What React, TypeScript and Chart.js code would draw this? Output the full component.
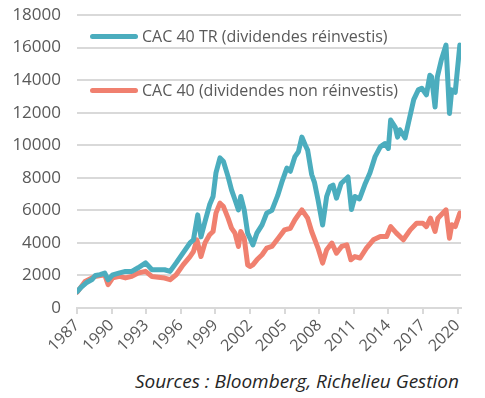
import React, { useEffect, useRef } from "react";
import { Chart, registerables } from "chart.js";

Chart.register(...registerables);

const trYears = [
  1987.0, 1987.4, 1987.8, 1988.3, 1988.6, 1989.0, 1989.4, 1989.7, 1990.1, 1990.7,
  1991.2, 1991.75, 1992.3, 1992.95, 1993.5, 1994.0, 1994.6, 1995.07, 1995.6, 1996.2,
  1996.8, 1997.1, 1997.47, 1997.75, 1998.1, 1998.5, 1998.8, 1999.05, 1999.4, 1999.7,
  2000.1, 2000.4, 2000.7, 2001.0, 2001.2, 2001.5, 2001.8, 2002.0, 2002.25, 2002.6,
  2003.05, 2003.45, 2003.9, 2004.4, 2004.75, 2005.2, 2005.5, 2005.9, 2006.2, 2006.5,
  2006.8, 2007.0, 2007.35, 2007.6, 2007.9, 2008.3, 2008.65, 2008.95, 2009.2, 2009.5,
  2009.9, 2010.5, 2010.8, 2011.1, 2011.5, 2012.0, 2012.4, 2012.85, 2013.3, 2013.7,
  2014.0, 2014.2, 2014.6, 2014.8, 2015.0, 2015.45, 2015.8, 2016.2, 2016.6, 2016.9,
  2017.3, 2017.6, 2017.75, 2018.05, 2018.25, 2018.6, 2019.0, 2019.3, 2019.5, 2019.8,
  2020.2,
];
const trValues = [
  1000, 1300, 1550, 1750, 2000, 2050, 2150, 1730, 2040, 2160,
  2250, 2250, 2470, 2770, 2350, 2350, 2350, 2250, 2770, 3390,
  4000, 4190, 5720, 4370, 5310, 6340, 6850, 8300, 9220, 9000,
  8070, 7260, 6650, 6030, 6850, 6030, 4600, 4290, 3880, 4600,
  5110, 5830, 6000, 6900, 7700, 8600, 8400, 9300, 9600, 10500,
  10000, 9700, 8200, 7700, 6650, 5100, 6850, 7450, 7550, 6750,
  7650, 8050, 6050, 6850, 6700, 7650, 8300, 9300, 9900, 10100,
  9800, 11550, 11100, 10500, 10950, 10450, 11550, 12800, 13400, 13500,
  13100, 14300, 14200, 12350, 14200, 15250, 16150, 11950, 13400, 13250,
  16150,
];

const cacYears = [
  1987.0, 1987.7, 1988.55, 1989.4, 1989.7, 1990.1, 1990.7, 1991.2, 1991.75, 1992.3,
  1992.95, 1993.5, 1994.6, 1995.07, 1995.6, 1996.2, 1996.8, 1997.1, 1997.4, 1997.75,
  1998.1, 1998.5, 1998.8, 1999.05, 1999.4, 1999.7, 2000.1, 2000.4, 2000.7, 2001.0,
  2001.2, 2001.5, 2001.8, 2002.0, 2002.25, 2002.6, 2003.05, 2003.45, 2003.9, 2004.45,
  2005.0, 2005.5, 2005.9, 2006.5, 2007.0, 2007.35, 2007.9, 2008.3, 2008.65, 2009.1,
  2009.5, 2009.95, 2010.4, 2010.75, 2011.1, 2011.55, 2012.1, 2012.7, 2013.3, 2013.85,
  2014.2, 2014.7, 2015.3, 2015.9, 2016.45, 2017.0, 2017.3, 2017.65, 2018.05, 2018.3,
  2019.0, 2019.3, 2019.5, 2019.8, 2020.2,
];
const cacValues = [
  960, 1630, 1940, 2040, 1430, 1850, 1940, 1850, 1940, 2150,
  2250, 1940, 1840, 1740, 2040, 2650, 3160, 3470, 4190, 3160,
  4000, 4500, 4700, 5830, 6440, 6230, 5520, 4910, 4600, 3780,
  4700, 4290, 2650, 2550, 2650, 2960, 3270, 3680, 3780, 4290,
  4800, 4900, 5420, 6030, 5520, 4700, 3680, 2760, 3580, 3990,
  3370, 3780, 3880, 2960, 3160, 3070, 3680, 4190, 4390, 4390,
  5000, 4600, 4190, 4800, 5210, 5210, 5000, 5520, 4700, 5520,
  6030, 4290, 5110, 5000, 5830,
];

const xTickYears = [1987, 1990, 1993, 1996, 1999, 2002, 2005, 2008, 2011, 2014, 2017, 2020];
const yTickValues = [0, 2000, 4000, 6000, 8000, 10000, 12000, 14000, 16000, 18000];

const seriesNames = ["CAC 40 TR (dividendes réinvestis)", "CAC 40 (dividendes non réinvestis)"];
const seriesColors = ["#4BADBE", "#F0806F"];
const sourceText = "Sources : Bloomberg, Richelieu Gestion";

const FONT = "'Open Sans', 'Noto Sans', sans-serif";

export default function App() {
  const canvasRef = useRef<HTMLCanvasElement | null>(null);

  useEffect(() => {
    const canvas = canvasRef.current;
    if (!canvas) return;
    const toPoints = (xs: number[], ys: number[]) => xs.map((x, i) => ({ x, y: ys[i] }));
    const chart = new Chart(canvas, {
      type: "line",
      data: {
        datasets: [
          {
            label: seriesNames[0],
            data: toPoints(trYears, trValues),
            borderColor: seriesColors[0],
            backgroundColor: seriesColors[0],
            borderWidth: 5,
            pointRadius: 0,
            tension: 0,
            borderJoinStyle: "round",
            borderCapStyle: "round",
          },
          {
            label: seriesNames[1],
            data: toPoints(cacYears, cacValues),
            borderColor: seriesColors[1],
            backgroundColor: seriesColors[1],
            borderWidth: 5,
            pointRadius: 0,
            tension: 0,
            borderJoinStyle: "round",
            borderCapStyle: "round",
          },
        ],
      },
      options: {
        responsive: false,
        animation: false,
        layout: { padding: { top: 15, right: 24, left: 0, bottom: 0 } },
        plugins: { legend: { display: false }, tooltip: { enabled: false } },
        scales: {
          x: {
            type: "linear",
            min: 1987,
            max: 2020.3,
            afterBuildTicks: (scale: any) => {
              scale.ticks = xTickYears.map((v) => ({ value: v }));
            },
            afterFit: (scale: any) => {
              scale.height = 54;
              scale.paddingLeft = 0;
              scale.paddingRight = 0;
            },
            grid: {
              display: true,
              drawOnChartArea: false,
              drawTicks: true,
              tickLength: 6,
              color: "#d9d9d9",
              lineWidth: 2,
            },
            border: { display: true, color: "#d9d9d9", width: 2 },
            ticks: {
              autoSkip: false,
              maxRotation: 45,
              minRotation: 45,
              padding: 2,
              color: "#595959",
              font: { family: FONT, size: 16 },
              callback: (v: any) => String(v),
            },
          },
          y: {
            type: "linear",
            min: 0,
            max: 18000,
            afterBuildTicks: (scale: any) => {
              scale.ticks = yTickValues.map((v) => ({ value: v }));
            },
            afterFit: (scale: any) => {
              scale.width = 77;
              scale.paddingTop = 0;
              scale.paddingBottom = 0;
            },
            grid: { color: "#d9d9d9", lineWidth: 2, drawTicks: false },
            border: { display: false },
            ticks: {
              padding: 16,
              color: "#595959",
              font: { family: FONT, size: 17 },
              callback: (v: any) => String(v),
            },
          },
        },
      },
    } as any);
    return () => chart.destroy();
  }, []);

  const legendRow = (i: number, top: number) => (
    <div
      key={i}
      style={{ position: "absolute", left: 90, top: top - 10, height: 20, display: "flex", alignItems: "center" }}
    >
      <div style={{ width: 48, height: 5, borderRadius: 3, background: seriesColors[i], marginRight: 4 }} />
      <span style={{ fontFamily: FONT, fontSize: 16, color: "#595959", whiteSpace: "nowrap" }}>{seriesNames[i]}</span>
    </div>
  );

  return (
    <div style={{ position: "fixed", left: 0, top: 0, width: 485, height: 398, background: "#fff", overflow: "hidden" }}>
      <canvas ref={canvasRef} width={485} height={362} style={{ position: "absolute", left: 0, top: 0, width: 485, height: 362 }} />
      {legendRow(0, 36)}
      {legendRow(1, 90)}
      <div
        style={{
          position: "absolute",
          right: 26,
          top: 367,
          fontFamily: FONT,
          fontStyle: "italic",
          fontSize: 19,
          color: "#262626",
          whiteSpace: "nowrap",
          lineHeight: "28px",
        }}
      >
        {sourceText}
      </div>
    </div>
  );
}
